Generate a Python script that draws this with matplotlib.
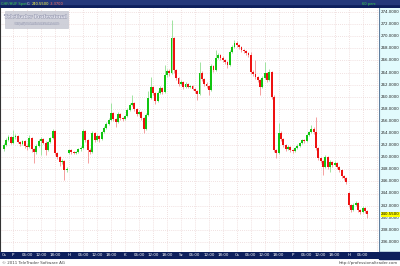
import matplotlib
matplotlib.use("Agg")
import matplotlib.pyplot as plt
from matplotlib.patches import Rectangle
import matplotlib.patheffects as pe
import numpy as np

# ---------------- data (hourly CHF/HUF candles) ----------------
closes = [252.0, 252.8, 253.3, 252.4, 253.3, 253.5, 252.5, 252.2, 252.7, 251.9,
          251.7, 253.2, 251.4, 250.9, 251.9, 252.7, 253.0, 252.4, 251.2, 252.5,
          253.2, 254.3, 250.7, 250.0, 249.2, 249.4, 247.9, 248.0, 251.2, 250.8,
          250.7, 250.9, 251.3, 251.5, 254.3, 252.8, 251.2, 250.9, 254.0, 252.8,
          253.5, 253.0, 254.2, 254.9, 255.5, 256.2, 257.3, 256.3, 255.8, 257.1,
          256.5, 256.3, 256.8, 257.8, 258.6, 259.0, 258.0, 257.1, 257.5, 256.5,
          254.7, 257.0, 259.8, 261.6, 260.6, 259.3, 260.6, 261.4, 260.8, 263.6,
          264.2, 263.9, 269.7, 264.4, 263.1, 262.1, 262.4, 261.6, 262.1, 261.6,
          261.8, 261.3, 260.9, 260.4, 263.9, 262.9, 262.1, 261.8, 261.1, 265.1,
          264.4, 266.4, 266.9, 266.4, 266.1, 265.7, 265.2, 267.4, 268.2, 268.9,
          268.5, 268.2, 267.7, 267.6, 267.2, 266.9, 264.1, 263.8, 263.3, 262.8,
          261.6, 263.1, 263.9, 262.8, 264.1, 260.0, 251.2, 250.7, 254.0, 253.0,
          252.0, 251.4, 251.7, 251.2, 251.0, 251.5, 251.9, 252.3, 252.8, 252.7,
          253.7, 254.2, 254.7, 254.2, 251.5, 249.9, 249.4, 248.4, 250.0, 248.4,
          249.2, 248.7, 249.0, 248.4, 247.9, 246.9, 246.6, 245.9, 242.1, 241.3,
          242.1, 242.4, 241.3, 240.9, 241.6, 241.1, 240.55]

highs = [252.3, 253.1, 253.6, 253.5, 254.5, 253.8, 253.7, 252.7, 252.9, 252.9,
         252.1, 253.6, 253.4, 251.6, 252.1, 253.0, 253.3, 253.2, 252.6, 252.7,
         253.4, 254.7, 254.5, 250.9, 250.2, 249.7, 249.6, 248.3, 251.4, 251.4,
         251.0, 251.1, 251.5, 251.8, 254.6, 254.5, 253.0, 251.5, 254.3, 254.2,
         253.8, 253.7, 254.4, 255.1, 255.8, 256.5, 259.0, 257.5, 256.5, 257.4,
         257.3, 256.7, 257.0, 258.1, 258.9, 260.3, 259.2, 258.2, 257.8, 257.7,
         256.7, 257.3, 260.9, 263.3, 261.8, 260.8, 260.9, 261.8, 261.6, 265.2,
         264.6, 264.5, 272.7, 269.9, 264.6, 263.3, 262.7, 262.6, 262.4, 262.3,
         262.0, 262.0, 261.5, 261.1, 265.7, 264.2, 263.1, 262.4, 262.0, 265.4,
         265.3, 267.7, 267.3, 267.1, 266.7, 266.3, 265.9, 267.7, 268.5, 269.3,
         269.2, 268.7, 268.4, 267.9, 267.8, 267.4, 267.4, 264.4, 266.1, 263.5,
         263.0, 263.4, 265.7, 264.1, 264.6, 264.3, 260.2, 251.4, 255.7, 254.3,
         253.2, 252.2, 252.0, 251.9, 251.4, 251.7, 252.1, 252.5, 253.0, 253.0,
         253.9, 254.4, 255.4, 255.0, 256.6, 251.7, 250.1, 249.6, 250.3, 250.2,
         249.5, 249.4, 249.3, 249.2, 248.6, 248.1, 247.1, 246.8, 244.3, 242.3,
         242.4, 242.7, 242.6, 241.5, 241.9, 241.8, 241.3]

lows = [251.0, 251.8, 252.6, 252.1, 252.2, 253.0, 252.3, 251.9, 252.0, 251.6,
        251.2, 251.5, 250.8, 249.0, 250.6, 251.7, 250.4, 252.1, 250.4, 251.0,
        252.3, 253.0, 250.3, 249.7, 248.5, 248.9, 246.2, 247.6, 250.5, 250.6,
        250.5, 250.5, 250.7, 251.1, 251.3, 252.5, 249.0, 250.5, 250.7, 252.5,
        252.6, 252.5, 252.8, 254.0, 254.7, 255.3, 256.0, 256.0, 255.0, 255.6,
        256.2, 256.0, 256.1, 256.6, 257.6, 258.4, 257.7, 256.8, 256.9, 256.2,
        254.0, 254.5, 256.8, 259.6, 260.3, 258.8, 259.1, 260.4, 260.5, 260.6,
        263.3, 263.5, 263.7, 264.0, 262.8, 261.8, 261.9, 261.3, 261.4, 261.4,
        261.4, 261.1, 260.6, 259.5, 260.2, 262.6, 261.8, 261.5, 260.3, 260.9,
        264.1, 264.2, 266.2, 266.1, 265.8, 265.4, 264.7, 265.0, 267.2, 268.0,
        268.2, 267.9, 267.4, 267.3, 266.9, 266.6, 263.8, 263.5, 263.0, 262.5,
        260.3, 261.4, 262.9, 262.5, 262.6, 259.6, 250.9, 249.9, 250.5, 252.7,
        251.7, 251.1, 251.2, 250.9, 250.7, 250.8, 251.3, 251.7, 252.1, 252.4,
        252.5, 253.5, 254.0, 253.9, 251.2, 249.6, 249.0, 247.1, 248.2, 248.1,
        247.6, 248.4, 248.5, 248.1, 247.6, 246.6, 246.3, 245.6, 241.8, 241.0,
        241.1, 241.9, 241.0, 240.6, 240.7, 240.8, 240.0]

first_open = 251.4
gap_opens = {28: 250.7, 148: 244.1}   # weekend gap opens (Monday)

y_ticks = [236, 238, 240, 242, 244, 246, 248, 250, 252, 254, 256, 258, 260,
           262, 264, 266, 268, 270, 272, 274]
day_names = ["Cs", "P", "H", "K", "Sz", "Cs", "P", "H"]
day_starts = [0, 4, 28, 52, 76, 100, 124, 148]   # candle index of each day label
hour_labels = ["06:00", "12:00", "18:00"]
last_price = 240.55
change = -3.37

# ---------------- build opens ----------------
n = len(closes)
opens = [first_open] + closes[:-1]
for k, v in gap_opens.items():
    opens[k] = v
idx = np.arange(n)
O = np.array(opens); C = np.array(closes)
H = np.array(highs); L = np.array(lows)

W, Hpx = 400, 266
fig = plt.figure(figsize=(4.0, 2.66), dpi=100)
fig.patch.set_facecolor("white")

def fx(px): return px / W
def fy(py): return 1 - py / Hpx

navy = "#0d1f5c"
FONT = "DejaVu Sans"
FS = 2.9

# plot axes
left, right, top, bottom = 0, 379, 8, 252
ax = fig.add_axes([fx(left), fy(bottom), fx(right - left), fy(top) - fy(bottom)])
ax.set_facecolor("white")
px_per_unit = 6.05
y_top = 274 + (12 - top) / px_per_unit
y_bot = 274 - (bottom - 12) / px_per_unit
ax.set_ylim(y_bot, y_top)
x0px, dx = 3.8, 2.33
ax.set_xlim((left - x0px) / dx, (right - x0px) / dx)

# grid
for yv in y_ticks:
    ax.axhline(yv, color="#ecd6d6", lw=0.6, ls=(0, (1, 1.5)), zorder=0)
vgrid = []
for d in day_starts[1:]:
    for h in (0, 6, 12, 18):
        if d + h < n + 4:
            vgrid.append(d + h)
for v in vgrid:
    ax.axvline(v, color="#ecd6d6", lw=0.6, ls=(0, (1, 1.5)), zorder=0)

up = C >= O
body_col = np.where(up, "#11c511", "#ee1111")
wick_col = np.where(up, "#9fe39f", "#f5a0a0")
ax.vlines(idx, L, H, colors=wick_col, lw=0.7, zorder=2)
heights = np.maximum(np.abs(C - O), 0.12)
ax.bar(idx, heights, bottom=np.minimum(O, C), width=0.8, color=body_col,
       linewidth=0, zorder=3)
ax.set_xticks([]); ax.set_yticks([])
for s in ax.spines.values():
    s.set_visible(False)
ax.axvline(ax.get_xlim()[0], color="#333333", lw=0.8)

# right price panel
pan = fig.add_axes([fx(right), fy(bottom), fx(W - right), fy(top) - fy(bottom)])
pan.set_facecolor("#e2fbfd")
pan.set_ylim(y_bot, y_top)
pan.set_xlim(0, 1)
pan.set_xticks([]); pan.set_yticks([])
for s in pan.spines.values():
    s.set_visible(False)
pan.axvline(0, color="#6080a0", lw=0.8)
for yv in y_ticks:
    pan.text(0.99, yv, f"{yv:.4f}", ha="right", va="center", fontsize=FS,
             color="#222222", family=FONT)
pan.text(0.99, last_price, f"{last_price:.4f}", ha="right", va="center",
         fontsize=FS, color="#000000", family=FONT,
         bbox=dict(boxstyle="square,pad=0.1", fc="#ffff00", ec="none"))

# header bar
hdr = fig.add_axes([0, fy(top), 1, top / Hpx])
hdr.set_xlim(0, W); hdr.set_ylim(0, top)
hdr.axis("off")
hdr.add_patch(Rectangle((0, 0), W, top, color=navy))
hdr.add_patch(Rectangle((0, top * 0.55), W, top * 0.45, color="#24387a"))
tf = dict(fontsize=2.6, va="center", family=FONT)
hdr.text(1, top / 2, "CHF/HUF Spot", color="#37d24a", **tf)
hdr.text(26.5, top / 2, "C:", color="#e8e8e8", **tf)
hdr.text(31.5, top / 2, f"{last_price:.4f}", color="#ffff40", **tf)
hdr.text(50, top / 2, f"{change:.4f}", color="#ff7060", **tf)
hdr.text(376, top / 2, "60 perc", color="#37d24a", ha="right", **tf)

# bottom time axis bar
bb = fig.add_axes([fx(0), fy(259), fx(right), (259 - bottom) / Hpx])
bb.set_xlim(ax.get_xlim()); bb.set_ylim(0, 1)
bb.axis("off")
bb.add_patch(Rectangle((ax.get_xlim()[0], 0), ax.get_xlim()[1] - ax.get_xlim()[0], 1,
                       color=navy))
for name, d in zip(day_names, day_starts):
    bb.text(d, 0.5, name, color="white", ha="center", va="center", fontsize=FS,
            family=FONT)
    if d == 0:
        continue
    for k, hl in enumerate(hour_labels):
        pos = d + 6 * (k + 1)
        if pos < n:
            bb.text(pos, 0.5, hl, color="white", ha="center", va="center",
                    fontsize=FS, family=FONT)
fig.patches.append(Rectangle((fx(right), fy(259)), 1 - fx(right), (259 - bottom) / Hpx,
                             transform=fig.transFigure, color=navy, zorder=0))

# footer
fig.text(fx(2), fy(263), "\u00a9 2011 TeleTrader Software AG", fontsize=FS,
         color="#444444", va="center", family=FONT)
fig.text(fx(398), fy(263), "http://professionaltrader.com", fontsize=FS,
         color="#444444", va="center", ha="right", family=FONT)

# logo watermark
fig.patches.append(Rectangle((fx(5), fy(28)), fx(63), 17 / Hpx,
                             transform=fig.transFigure, fc="#cacbd5", ec="#b8bac6",
                             lw=0.4, alpha=0.9, zorder=5))
fig.text(fx(36.5), fy(16.5), "TeleTrader Professional", fontsize=3.4,
         color="#eeeef6", ha="center", va="center", family="DejaVu Serif",
         weight="bold", zorder=6,
         path_effects=[pe.withStroke(linewidth=0.6, foreground="#9a9db2")])
fig.text(fx(36.5), fy(23.5), "http://professionaltrader.com", fontsize=2.2,
         color="#f4f4fa", ha="center", va="center", family=FONT, zorder=6,
         path_effects=[pe.withStroke(linewidth=0.4, foreground="#a0a3b6")])

fig.savefig("out.png", dpi=100)
